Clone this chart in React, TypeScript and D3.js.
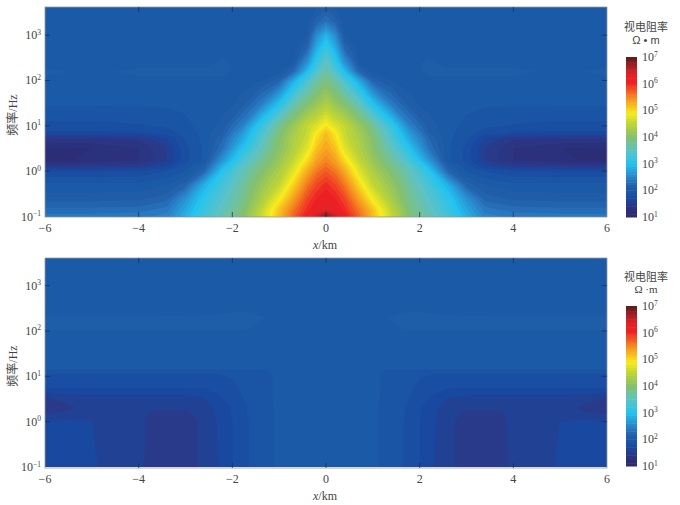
import React, { useRef, useEffect } from "react";
import * as d3 from "d3";

// half profiles (x <= 0), the right side of both sections mirrors the left
const xHalfTop = [-6, -5, -4, -3.4, -3, -2.6, -2.2, -1.8, -1.4, -1, -0.7, -0.4, -0.2, 0];
const freqTop = [3.63, 3.3, 3, 2.7, 2.4, 2.2, 2, 1.5, 1, 0.84, 0.72, 0.5, 0.24, 0.13, 0, -0.3, -0.6, -0.85, -1];
// log10 apparent resistivity, one row per frequency
const rhoTop = [
  [2, 2, 2, 2, 2, 2, 2, 2, 2, 2, 2, 2, 2.03, 2.1],
  [2, 2, 2, 2, 2, 2, 2, 2, 2, 2, 2, 2, 2.2, 2.35],
  [2, 2, 2, 2, 2, 2, 2, 2, 2, 2, 2, 2.05, 2.55, 2.88],
  [2, 2, 2, 2, 2, 2, 2, 2, 2, 2, 2, 2.25, 2.85, 3.25],
  [2, 2, 2, 2, 2, 2, 2.08, 2, 2, 2, 2.05, 2.6, 3.15, 3.52],
  [2.08, 2.02, 2.08, 2.08, 2.08, 2.08, 2.08, 2, 2, 2.02, 2.25, 2.95, 3.4, 3.7],
  [2.02, 2.01, 2.02, 2.02, 2.02, 2.02, 2.02, 2.02, 2.04, 2.2, 2.8, 3.35, 3.68, 3.9],
  [1.97, 1.97, 1.97, 1.97, 1.97, 1.98, 2, 2.08, 2.4, 2.98, 3.55, 3.95, 4.15, 4.35],
  [1.82, 1.82, 1.84, 1.87, 1.93, 1.98, 2.1, 2.45, 3.15, 3.8, 4.2, 4.55, 4.72, 4.95],
  [1.72, 1.72, 1.74, 1.8, 1.9, 1.98, 2.15, 2.65, 3.3, 3.92, 4.28, 4.58, 4.92, 5.18],
  [1.45, 1.45, 1.47, 1.65, 1.87, 1.98, 2.25, 2.75, 3.4, 4, 4.35, 4.62, 5, 5.24],
  [1.22, 1.25, 1.35, 1.55, 1.82, 1.97, 2.35, 3, 3.55, 4.05, 4.4, 4.75, 5.15, 5.35],
  [1.22, 1.27, 1.35, 1.55, 1.82, 1.98, 2.65, 3.3, 3.75, 4.18, 4.55, 5, 5.35, 5.52],
  [1.45, 1.47, 1.5, 1.65, 1.88, 2.1, 2.85, 3.45, 3.85, 4.25, 4.65, 5.15, 5.45, 5.62],
  [1.75, 1.75, 1.77, 1.85, 1.95, 2.25, 3.08, 3.55, 3.95, 4.35, 4.75, 5.3, 5.6, 5.75],
  [1.98, 1.98, 1.98, 2.05, 2.2, 2.85, 3.3, 3.7, 4.15, 4.55, 5.05, 5.6, 5.85, 6],
  [2.1, 2.1, 2.12, 2.2, 2.6, 3.1, 3.45, 3.8, 4.3, 4.85, 5.35, 5.85, 6.05, 6.15],
  [2.28, 2.28, 2.3, 2.4, 2.78, 3.2, 3.55, 3.9, 4.5, 5.15, 5.6, 6, 6.2, 6.35],
  [2.4, 2.4, 2.42, 2.5, 2.88, 3.3, 3.65, 3.97, 4.55, 5.2, 5.7, 6.15, 6.5, 6.9],
];

const xHalfBottom = [-6, -5.5, -5.1, -4.7, -4, -3.6, -3, -2.6, -2.3, -2, -1.7, -1.3, -1, 0];
const freqBottom = [3.63, 2.45, 2.3, 2.05, 1.9, 1.5, 1.15, 1.05, 0.75, 0.55, 0.3, 0.18, 0, -1];
const rhoBottom = [
  [2, 2, 2, 2, 2, 2, 2, 2, 2, 2, 2, 2, 2, 2],
  [2, 2, 2, 2, 2, 2, 2, 2, 2.02, 2.04, 2.04, 2.02, 2, 2],
  [2.06, 2.06, 2.06, 2.06, 2.06, 2.06, 2.07, 2.08, 2.08, 2.08, 2.08, 2.05, 2, 2],
  [2.07, 2.07, 2.07, 2.07, 2.07, 2.07, 2.07, 2.07, 2.07, 2.07, 2.06, 2.02, 2, 2],
  [2, 2, 2, 2, 2, 2, 2, 2, 2, 2, 2, 2, 2, 2],
  [2, 2, 2, 2, 2, 2, 2, 2, 2, 2, 2, 2, 2, 2],
  [1.95, 1.95, 1.95, 1.95, 1.95, 1.95, 1.95, 1.95, 1.95, 1.95, 1.95, 1.95, 1.96, 2],
  [1.85, 1.85, 1.85, 1.85, 1.85, 1.85, 1.85, 1.85, 1.85, 1.86, 1.88, 1.93, 1.97, 2],
  [1.75, 1.75, 1.75, 1.75, 1.75, 1.75, 1.75, 1.76, 1.78, 1.83, 1.88, 1.93, 1.97, 2],
  [1.55, 1.62, 1.63, 1.63, 1.63, 1.63, 1.63, 1.66, 1.74, 1.8, 1.87, 1.93, 1.97, 2],
  [1.48, 1.52, 1.6, 1.6, 1.6, 1.57, 1.57, 1.6, 1.68, 1.76, 1.85, 1.92, 1.97, 2],
  [1.55, 1.57, 1.6, 1.6, 1.57, 1.53, 1.53, 1.6, 1.67, 1.76, 1.85, 1.92, 1.97, 2],
  [1.67, 1.67, 1.66, 1.62, 1.58, 1.5, 1.5, 1.58, 1.66, 1.75, 1.84, 1.92, 1.97, 2],
  [1.7, 1.7, 1.69, 1.62, 1.57, 1.5, 1.5, 1.58, 1.65, 1.75, 1.84, 1.92, 1.97, 2],
];

const xTicks = [-6, -4, -2, 0, 2, 4, 6];
const freqTicks = [3, 2, 1, 0, -1];
const barTicks = [1, 2, 3, 4, 5, 6, 7];
const levels = d3.range(0.95, 7.05, 0.1);

const colorStops = [1, 1.25, 1.5, 1.7, 2, 2.15, 2.5, 3, 3.5, 4, 4.5, 4.9, 5.5, 6.05, 6.35, 6.7, 7];
const colorValues = [
  "#2d2a6c", "#2b2f78", "#2a3a8a", "#1848a0", "#1b5aa7", "#225ea9", "#2a84ca", "#22c3f0",
  "#5cc3c6", "#84c06e", "#bcd437", "#f8ec1e", "#f58a20", "#ee2024", "#e32226", "#a11f24", "#5a1a1a",
];
const color = d3.scaleLinear<string>().domain(colorStops).range(colorValues);

const panels = [
  { id: "top", plotTop: 7, tick1: 216.5, barTop: 57, barBottom: 217, xHalf: xHalfTop, freq: freqTop, rho: rhoTop, titleY: 31, unitY: 44, unit: "Ω • m", unitFont: "Liberation Sans" },
  { id: "bottom", plotTop: 258, tick1: 467, barTop: 306, barBottom: 466, xHalf: xHalfBottom, freq: freqBottom, rho: rhoBottom, titleY: 281, unitY: 293, unit: "Ω ·m", unitFont: "Liberation Serif" },
];

const ink = "#444";
const serif = "'Liberation Serif', serif";
const cjk = "'Noto Sans CJK SC', sans-serif";

function powerLabel(sel: any, exp: number) {
  sel.append("tspan").text("10");
  sel.append("tspan").attr("dy", -4.5).attr("font-size", 7.5).text(exp === -1 ? "−1" : exp);
}

function drawPanel(svg: any, p: (typeof panels)[number]) {
  const left = 45;
  const right = 607;
  const bottom = p.plotTop + 210;
  const x = d3.scaleLinear().domain([-6, 6]).range([left, right]);
  const y = d3.scaleLinear().domain([-1, 3]).range([p.tick1, p.tick1 - 4 * 45.35]);

  // mirror the half profiles into the full section
  const xs = [...p.xHalf, ...p.xHalf.slice(0, -1).reverse().map((d) => -d)];
  const rows = p.rho.map((r) => [...r, ...r.slice(0, -1).reverse()]);
  const n = xs.length;
  const m = rows.length;

  // contour grid index -> pixels, the grid is not evenly spaced
  const gx = d3.scaleLinear().domain(xs.map((_, i) => i + 0.5)).range(xs.map(x)).clamp(true);
  const gy = d3.scaleLinear().domain(p.freq.map((_, i) => i + 0.5)).range(p.freq.map(y)).clamp(true);

  const contours = d3.contours().size([n, m]).thresholds(levels)(rows.flat());
  const path = d3.geoPath(
    d3.geoTransform({
      point(this: any, a: number, b: number) {
        this.stream.point(gx(a), gy(b));
      },
    })
  );

  const clipId = "clip-" + p.id;
  svg
    .append("clipPath")
    .attr("id", clipId)
    .append("rect")
    .attr("x", left)
    .attr("y", p.plotTop)
    .attr("width", right - left)
    .attr("height", bottom - p.plotTop);

  svg
    .append("g")
    .attr("clip-path", `url(#${clipId})`)
    .selectAll("path")
    .data(contours)
    .join("path")
    .attr("d", (d: any) => path(d))
    .attr("fill", (d: any) => color(d.value + 0.05));

  // frame
  svg
    .append("rect")
    .attr("x", left)
    .attr("y", p.plotTop)
    .attr("width", right - left)
    .attr("height", bottom - p.plotTop)
    .attr("fill", "none")
    .attr("stroke", "#9a9a9a")
    .attr("stroke-width", 0.8);

  // ticks point inward on all four sides
  const ticks = svg.append("g").attr("stroke", "#1a2f55").attr("stroke-opacity", 0.75).attr("stroke-width", 1);
  xTicks.slice(1, -1).forEach((t) => {
    ticks.append("line").attr("x1", x(t)).attr("x2", x(t)).attr("y1", p.plotTop).attr("y2", p.plotTop + 5);
    ticks.append("line").attr("x1", x(t)).attr("x2", x(t)).attr("y1", bottom).attr("y2", bottom - 5);
  });
  freqTicks.slice(0, -1).forEach((t) => {
    ticks.append("line").attr("x1", left).attr("x2", left + 5).attr("y1", y(t)).attr("y2", y(t));
    ticks.append("line").attr("x1", right).attr("x2", right - 5).attr("y1", y(t)).attr("y2", y(t));
  });

  const text = svg.append("g").attr("fill", ink).attr("font-family", serif).attr("font-size", 12);
  xTicks.forEach((t) => {
    text
      .append("text")
      .attr("x", x(t))
      .attr("y", p.plotTop + 225)
      .attr("text-anchor", "middle")
      .text(String(t).replace("-", "−"));
  });
  freqTicks.forEach((t) => {
    text
      .append("text")
      .attr("x", 41)
      .attr("y", y(t) + 4)
      .attr("text-anchor", "end")
      .call(powerLabel, t);
  });

  const xLabel = text.append("text").attr("x", 325).attr("y", p.plotTop + 242).attr("text-anchor", "middle");
  xLabel.append("tspan").attr("font-style", "italic").text("x");
  xLabel.append("tspan").text("/km");

  const yLabel = text
    .append("text")
    .attr("transform", `translate(17,${p.plotTop + 108}) rotate(-90)`)
    .attr("text-anchor", "middle");
  yLabel.append("tspan").attr("font-family", cjk).text("频率");
  yLabel.append("tspan").text("/Hz");

  // colour bar, one rect per contour level
  const barX = 626;
  const barW = 11;
  const barY = d3.scaleLinear().domain([1, 7]).range([p.barBottom, p.barTop]);
  svg
    .append("g")
    .selectAll("rect")
    .data(d3.range(1, 7, 0.1))
    .join("rect")
    .attr("x", barX)
    .attr("width", barW)
    .attr("y", (d: number) => barY(d + 0.1))
    .attr("height", (d: number) => barY(d) - barY(d + 0.1) + 0.5)
    .attr("fill", (d: number) => color(d + 0.05));

  barTicks.forEach((t) => {
    text
      .append("text")
      .attr("x", 642)
      .attr("y", barY(t) + 4)
      .call(powerLabel, t);
  });

  text
    .append("text")
    .attr("x", 646)
    .attr("y", p.titleY)
    .attr("text-anchor", "middle")
    .attr("font-family", cjk)
    .attr("font-size", 11)
    .text("视电阻率");
  text
    .append("text")
    .attr("x", 646)
    .attr("y", p.unitY)
    .attr("text-anchor", "middle")
    .attr("font-family", `'${p.unitFont}'`)
    .attr("font-size", 11)
    .text(p.unit);
}

export default function App() {
  const ref = useRef<SVGSVGElement>(null);

  useEffect(() => {
    if (!ref.current) return;
    const svg = d3.select(ref.current);
    svg.selectAll("*").remove();
    panels.forEach((p) => drawPanel(svg, p));
  }, []);

  return (
    <svg
      ref={ref}
      width={680}
      height={505}
      style={{ position: "absolute", left: 0, top: 0, background: "#fff" }}
    />
  );
}
